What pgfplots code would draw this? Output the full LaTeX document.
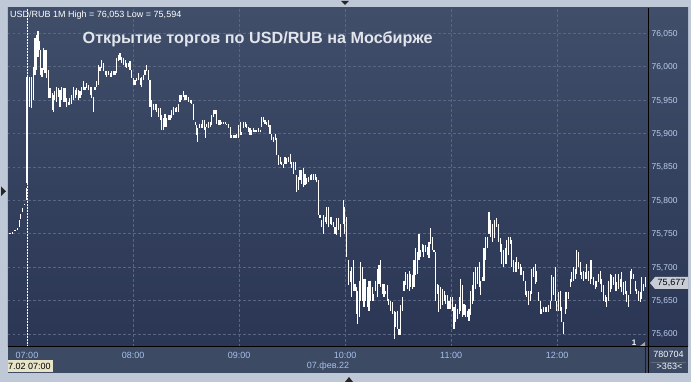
\documentclass[border=0pt]{standalone}
\usepackage{pgfplots}
\pgfplotsset{compat=1.18}
\usepackage{pgfplotstable}
\usepackage{fontspec}
\setmainfont{Liberation Sans}
\definecolor{frame}{RGB}{190,200,214}
\definecolor{bgtop}{RGB}{64,78,106}
\definecolor{bgbot}{RGB}{42,54,84}
\definecolor{gridc}{RGB}{88,102,132}
\definecolor{lblue}{RGB}{186,206,238}
\definecolor{xblue}{RGB}{168,192,232}
\definecolor{panel}{RGB}{60,74,100}
\definecolor{lastbox}{RGB}{200,204,212}
\definecolor{beige}{RGB}{232,228,200}
\definecolor{titlec}{RGB}{226,229,236}

\pgfplotstableread{
m hi lo
-9.6 75.751 75.749
-8.3 75.752 75.750
-6.8 75.756 75.754
-5.5 75.758 75.756
-4.3 75.770 75.760
-3.6 75.779 75.772
-2.6 75.788 75.782
-1.5 75.795 75.793
-0.4 75.818 75.800
0 75.985 75.826
1.3 75.985 75.940
2.6 75.985 75.939
3.6 76.000 75.950
4.5 76.043 75.988
5.5 76.048 75.995
6.2 76.053 76.015
7.0 76.038 76.025
7.7 76.025 75.988
8.5 75.998 75.985
9.2 76.028 75.995
10.2 76.025 75.990
10.9 76.025 75.983
12.3 75.995 75.953
13.0 75.968 75.953
14.2 75.960 75.935
14.9 75.958 75.933
15.8 75.963 75.950
16.8 75.970 75.948
17.7 75.968 75.955
18.7 75.965 75.940
19.6 75.970 75.950
20.6 75.968 75.948
21.5 75.968 75.948
22.5 75.953 75.940
23.4 75.948 75.943
24.3 75.953 75.943
25.3 75.958 75.945
26.2 75.970 75.950
27.2 75.965 75.953
28.1 75.968 75.958
29.1 75.965 75.950
30.0 75.963 75.953
30.9 75.970 75.958
31.9 75.978 75.965
32.8 75.970 75.965
33.8 75.975 75.968
34.7 75.973 75.965
35.7 75.970 75.958
36.6 75.970 75.953
37.5 75.955 75.933
38.5 75.970 75.965
39.4 75.978 75.970
40.4 76.003 75.973
41.3 76.000 75.993
42.3 76.010 75.998
43.2 76.005 75.993
44.2 75.993 75.988
45.1 75.993 75.985
46.0 75.993 75.988
47.0 75.990 75.985
47.9 75.993 75.985
48.9 75.993 75.988
49.8 75.993 75.988
50.8 76.013 75.990
51.7 76.018 76.008
52.6 76.020 76.010
53.6 76.015 76.005
54.5 76.013 76.003
55.5 76.010 76.000
56.4 76.005 75.998
57.4 76.005 76.000
58.3 76.008 75.995
59.2 75.995 75.983
60.2 75.983 75.973
61.1 75.980 75.973
62.1 75.983 75.978
63.0 75.990 75.980
64.0 75.983 75.973
64.9 75.985 75.970
65.8 75.988 75.980
66.8 75.995 75.988
67.7 76.003 75.993
68.7 75.995 75.980
69.6 75.980 75.940
70.6 75.950 75.925
71.5 75.945 75.935
72.5 75.945 75.935
73.4 75.945 75.933
74.3 75.938 75.925
75.3 75.938 75.920
76.2 75.928 75.905
77.2 75.923 75.905
78.1 75.930 75.910
79.1 75.923 75.910
80.0 75.928 75.920
80.9 75.928 75.920
81.9 75.935 75.923
82.8 75.940 75.928
83.8 75.938 75.933
84.7 75.940 75.933
85.7 75.945 75.933
86.6 75.958 75.948
87.5 75.958 75.950
88.5 75.963 75.955
89.4 75.958 75.950
90.4 75.958 75.950
91.3 75.955 75.948
92.3 75.951 75.946
93.2 75.950 75.945
94.1 75.945 75.920
95.1 75.918 75.913
96.0 75.913 75.898
96.6 75.908 75.888
97.5 75.915 75.908
98.5 75.915 75.908
99.4 75.921 75.908
100.2 75.920 75.905
100.9 75.910 75.893
101.7 75.915 75.910
102.6 75.918 75.908
103.6 75.918 75.910
104.5 75.928 75.913
105.5 75.935 75.925
106.4 75.936 75.930
107.3 75.935 75.915
108.3 75.920 75.913
109.2 75.920 75.913
110.2 75.918 75.915
111.1 75.918 75.914
112.1 75.918 75.914
113.0 75.915 75.913
114.0 75.915 75.908
114.9 75.910 75.893
115.8 75.898 75.893
116.8 75.898 75.893
117.7 75.898 75.893
118.7 75.900 75.893
119.6 75.913 75.893
120.6 75.918 75.898
121.5 75.903 75.898
122.4 75.918 75.908
123.4 75.918 75.910
124.3 75.915 75.908
125.3 75.910 75.903
126.2 75.908 75.898
127.2 75.905 75.898
128.1 75.908 75.903
129.0 75.905 75.903
130.0 75.905 75.903
130.9 75.908 75.903
131.9 75.906 75.903
132.8 75.925 75.910
133.8 75.925 75.918
134.7 75.920 75.915
135.6 75.918 75.913
136.6 75.920 75.910
137.5 75.913 75.900
138.5 75.900 75.890
139.4 75.895 75.888
140.4 75.900 75.890
141.3 75.893 75.868
142.2 75.868 75.853
143.2 75.865 75.855
144.1 75.858 75.853
145.1 75.855 75.848
146.0 75.865 75.855
147.0 75.863 75.855
147.9 75.865 75.858
148.9 75.870 75.855
149.8 75.858 75.848
150.7 75.858 75.840
151.7 75.858 75.845
152.6 75.838 75.813
153.6 75.835 75.815
154.5 75.845 75.830
155.5 75.845 75.825
156.4 75.848 75.820
157.3 75.840 75.823
158.3 75.833 75.825
159.2 75.835 75.828
160.2 75.838 75.830
161.1 75.839 75.830
162.1 75.839 75.830
163.0 75.839 75.830
164.0 75.835 75.828
164.9 75.830 75.778
165.8 75.778 75.773
166.8 75.770 75.760
167.7 75.778 75.750
168.7 75.775 75.768
169.6 75.790 75.765
170.5 75.790 75.760
171.5 75.775 75.765
172.4 75.775 75.763
173.4 75.768 75.760
174.3 75.760 75.750
175.3 75.773 75.748
176.2 75.773 75.755
177.2 75.765 75.745
179.0 75.800 75.765
179.9 75.790 75.750
180.9 75.775 75.715
181.8 75.710 75.673
182.8 75.695 75.678
183.7 75.700 75.655
184.6 75.710 75.665
185.6 75.675 75.665
186.3 75.670 75.630
187.0 75.665 75.615
187.9 75.680 75.625
188.8 75.708 75.650
189.7 75.700 75.650
190.7 75.683 75.640
191.6 75.683 75.650
192.6 75.670 75.640
193.5 75.680 75.635
194.5 75.680 75.650
195.4 75.670 75.650
196.3 75.660 75.650
197.3 75.680 75.665
198.2 75.698 75.655
199.2 75.703 75.675
200.1 75.710 75.670
201.1 75.675 75.660
202.0 75.675 75.655
202.9 75.665 75.660
203.9 75.673 75.650
204.8 75.653 75.643
205.8 75.650 75.635
206.7 75.648 75.630
207.7 75.635 75.593
208.6 75.633 75.610
209.6 75.635 75.608
210.5 75.608 75.598
211.4 75.643 75.598
212.4 75.655 75.635
213.3 75.680 75.665
214.3 75.693 75.673
215.2 75.690 75.668
216.2 75.695 75.665
217.1 75.690 75.670
218.0 75.688 75.668
219.0 75.710 75.670
219.9 75.728 75.688
220.9 75.723 75.690
221.8 75.750 75.710
222.8 75.725 75.715
223.7 75.735 75.723
224.6 75.733 75.715
225.6 75.733 75.723
226.5 75.730 75.718
227.5 75.738 75.713
228.4 75.758 75.735
229.4 75.745 75.725
230.3 75.725 75.723
231.3 75.723 75.650
232.2 75.675 75.660
233.1 75.673 75.633
234.1 75.670 75.638
235.0 75.668 75.643
236.0 75.665 75.650
236.9 75.658 75.645
237.9 75.658 75.638
238.8 75.650 75.638
239.7 75.655 75.638
240.7 75.655 75.635
241.6 75.640 75.608
242.6 75.645 75.618
243.5 75.638 75.623
244.5 75.655 75.630
245.4 75.683 75.635
246.3 75.673 75.625
247.3 75.645 75.628
248.2 75.643 75.625
249.2 75.635 75.625
250.1 75.638 75.620
251.1 75.665 75.628
252.0 75.673 75.645
252.9 75.693 75.650
253.9 75.700 75.668
254.8 75.700 75.675
255.8 75.708 75.670
256.7 75.680 75.658
257.7 75.685 75.680
258.6 75.728 75.680
259.6 75.745 75.710
260.5 75.745 75.728
261.4 75.783 75.750
262.4 75.770 75.745
263.3 75.765 75.738
264.3 75.770 75.743
265.8 75.773 75.760
266.8 75.765 75.738
267.7 75.743 75.723
268.7 75.735 75.705
269.6 75.725 75.700
270.6 75.728 75.705
271.5 75.741 75.705
272.4 75.745 75.718
273.4 75.745 75.735
274.3 75.740 75.700
275.3 75.710 75.693
276.2 75.708 75.693
277.2 75.715 75.693
278.1 75.708 75.698
279.1 75.705 75.688
280.0 75.700 75.688
280.9 75.695 75.680
281.9 75.680 75.658
282.8 75.665 75.655
283.8 75.665 75.643
284.7 75.665 75.650
285.7 75.698 75.660
286.6 75.700 75.685
287.5 75.705 75.675
288.5 75.695 75.678
289.4 75.663 75.650
290.4 75.650 75.630
291.3 75.638 75.630
292.3 75.640 75.633
293.2 75.640 75.633
294.1 75.640 75.633
295.1 75.643 75.633
296.0 75.650 75.638
297.0 75.688 75.650
297.9 75.685 75.658
298.9 75.700 75.650
299.8 75.650 75.635
300.7 75.663 75.635
301.7 75.665 75.635
302.6 75.640 75.618
303.6 75.618 75.600
304.5 75.663 75.630
305.5 75.663 75.638
306.4 75.663 75.653
307.4 75.683 75.670
308.3 75.693 75.678
309.2 75.700 75.680
310.2 75.698 75.683
311.1 75.725 75.690
312.1 75.723 75.700
313.0 75.708 75.688
314.0 75.693 75.683
314.9 75.695 75.680
315.8 75.693 75.683
316.8 75.705 75.683
317.7 75.695 75.680
318.7 75.710 75.675
319.6 75.710 75.683
320.6 75.685 75.673
321.5 75.680 75.668
322.4 75.680 75.670
323.4 75.690 75.678
324.3 75.695 75.675
325.3 75.683 75.663
326.2 75.673 75.650
327.2 75.658 75.648
328.1 75.655 75.640
329.1 75.680 75.650
330.0 75.690 75.663
330.9 75.688 75.668
331.9 75.685 75.673
332.8 75.690 75.665
333.8 75.678 75.665
334.7 75.690 75.668
335.7 75.683 75.670
336.6 75.693 75.663
337.5 75.678 75.658
338.5 75.680 75.660
339.4 75.665 75.648
340.4 75.658 75.640
341.3 75.695 75.660
342.3 75.698 75.683
343.2 75.690 75.683
344.1 75.680 75.665
345.1 75.668 75.660
346.0 75.665 75.650
347.0 75.663 75.648
347.9 75.685 75.653
348.9 75.675 75.665
349.8 75.685 75.670
}\bars

\begin{document}
\begin{tikzpicture}[x=1pt,y=1pt]
\fill[frame] (0,0) rectangle (691,382);
\shade[top color=bgtop, bottom color=bgbot] (648,35) rectangle (688,374);
\fill[panel] (8,9) rectangle (688,35);
\begin{axis}[
  at={(8pt,35pt)}, anchor=south west, scale only axis,
  width=640pt, height=339pt,
  xmin=-10.75, xmax=351.4, ymin=75.5805, ymax=76.088,
  axis background/.style={shade, top color=bgtop, bottom color=bgbot},
  axis line style={draw=none},
  tick style={draw=none},
  /pgf/number format/assume math mode=true,
  xtick={0,60,120,180,240,300},
  xticklabels={07:00,08:00,09:00,10:00,11:00,12:00},
  ytick={75.6,75.65,75.7,75.75,75.8,75.85,75.9,75.95,76,76.05},
  yticklabels={{75,600},{75,650},{75,700},{75,750},{75,800},{75,850},{75,900},{75,950},{76,000},{76,050}},
  yticklabel pos=right,
  xticklabel style={font=\fontsize{9}{10}\selectfont, text=xblue, anchor=base, yshift=-12pt},
  yticklabel style={font=\fontsize{8.5}{10}\selectfont, text=lblue, anchor=base west, yshift=-3pt},
  grid=major,
  major grid style={gridc, dash pattern=on 2.5pt off 2.5pt, line width=0.6pt},
]
\draw[white, dash pattern=on 2pt off 1pt, line width=0.7pt] (axis cs:0,75.5805) -- (axis cs:0,76.088);
\addplot[only marks, mark=*, mark size=0pt, mark options={draw=none, fill=none},
  error bars/.cd, y dir=minus, y explicit, error mark=none,
  error bar style={draw=white, line width=1.1pt}]
  table[x=m, y=hi, y error minus expr=\thisrow{hi}-\thisrow{lo}] {\bars};
\end{axis}
\draw[black, line width=1pt] (648,9) -- (648,374);
\draw[black, line width=1pt] (8,35) -- (688,35);
\draw[black!60!panel, line width=0.6pt] (645,9) -- (645,35);
% triangles on frame
\fill[black!85] (341,381) -- (349,381) -- (345,377) -- cycle;
\fill[black!85] (1,195.5) -- (1,186) -- (6,190.7) -- cycle;
\fill[black!85] (345,0) -- (353,0) -- (349,5) -- cycle;
% header and title
\node[anchor=base west, inner sep=0, text=white, font=\fontsize{9}{10}\selectfont] at (10,364) {USD/RUB 1M High = 76,053 Low = 75,594};
\node[anchor=base west, inner sep=0, text=titlec, font=\fontsize{16.2}{19}\selectfont\bfseries] at (82.5,338) {Открытие торгов по USD/RUB на Мосбирже};
% last price box
\fill[lastbox] (650,99) -- (655,105) -- (688,105) -- (688,93) -- (655,93) -- cycle;
\node[text=black, inner sep=0, font=\fontsize{9}{10}\selectfont] at (671.5,99) {75,677};
% small marker
\node[text=white, inner sep=0, font=\fontsize{8}{9}\selectfont\bfseries] at (634,39) {1};
\fill[gray!70] (640,36) -- (645,36) -- (645,40) -- cycle;
% bottom panel texts
\fill[beige] (8,10) rectangle (53,22);
\node[anchor=west, inner sep=0, text=black, font=\fontsize{9}{10}\selectfont] at (8,16) {7.02 07:00};
\node[text=xblue, inner sep=0, font=\fontsize{9}{10}\selectfont] at (328,16) {07.фев.22};
\node[text=white!88!lblue, inner sep=0, font=\fontsize{9}{10}\selectfont] at (668.5,27.5) {780704};
\draw[gray!60!panel, line width=0.6pt] (651,19.3) -- (686,19.3);
\node[text=white!88!lblue, inner sep=0, font=\fontsize{9}{10}\selectfont] at (669.5,15.5) {>363<};
\pgfresetboundingbox
\path[use as bounding box] (0,0) rectangle (691,382);
\end{tikzpicture}
\end{document}
